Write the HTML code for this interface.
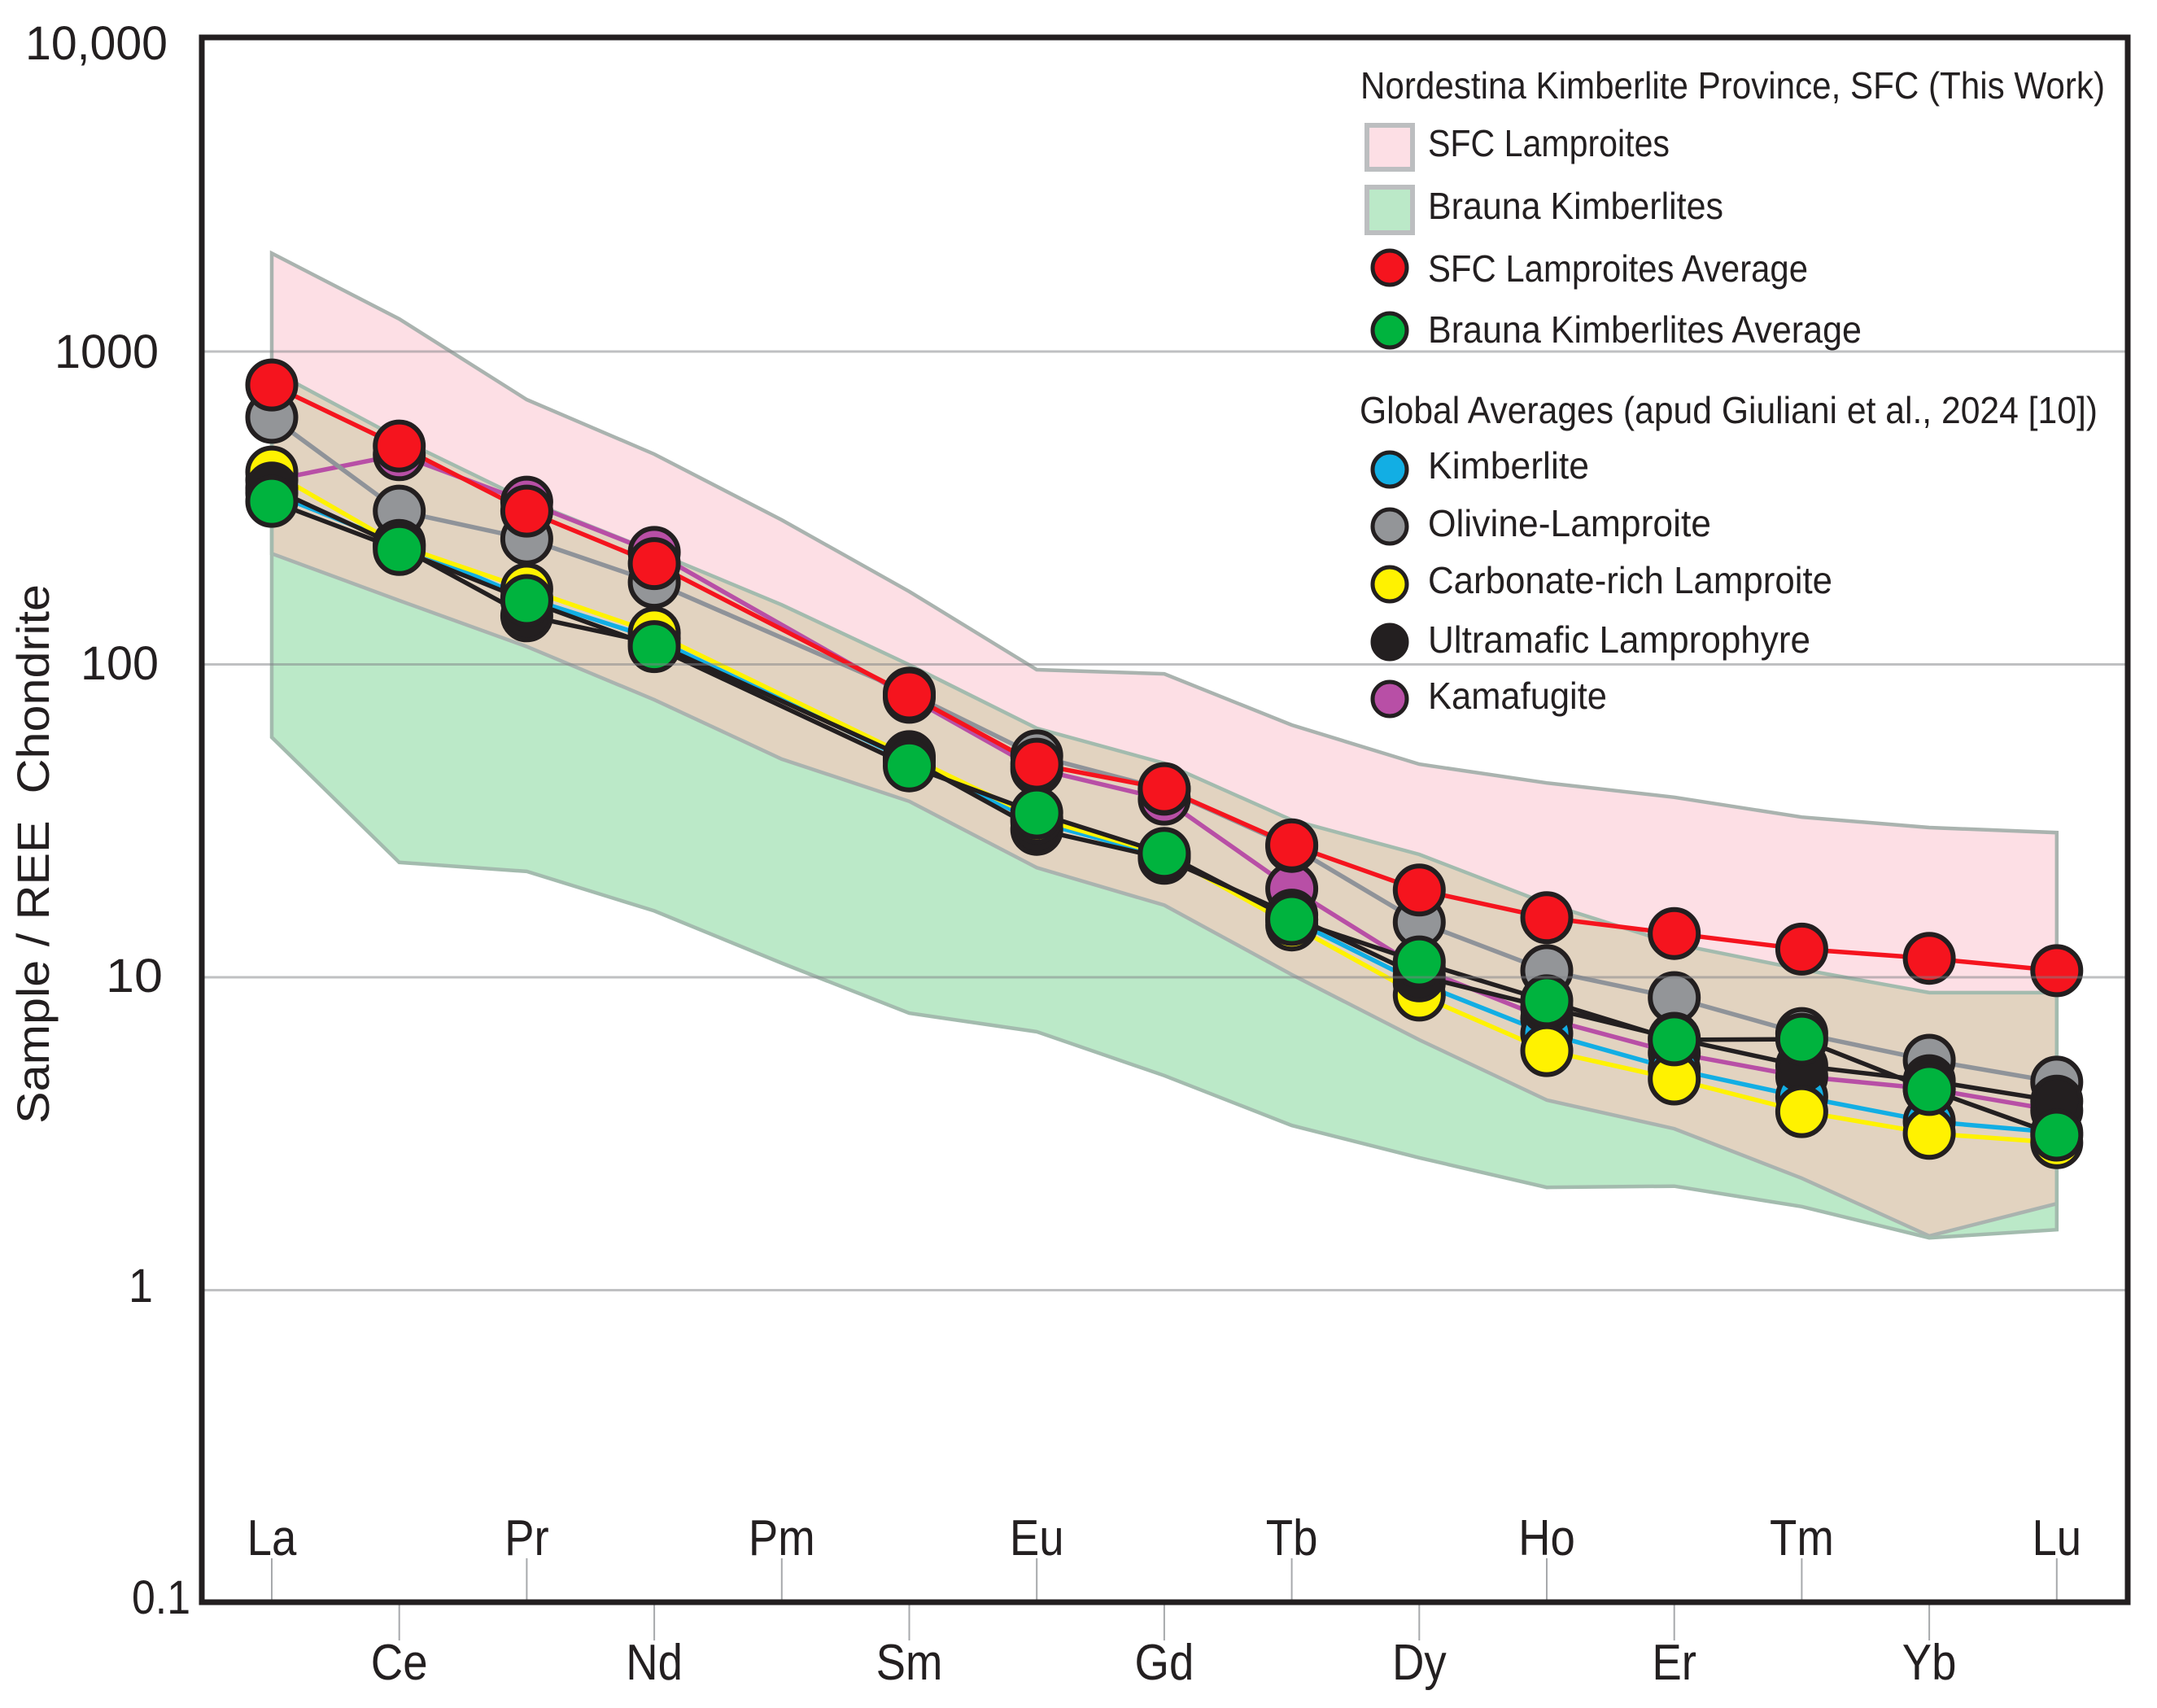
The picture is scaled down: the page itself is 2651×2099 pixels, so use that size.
<!DOCTYPE html>
<html lang="en">
<head>
<meta charset="utf-8">
<title>REE chondrite-normalized diagram</title>
<style>
  html, body { margin: 0; padding: 0; background: #fff; }
  svg { display: block; }
  text { font-family: "Liberation Sans", sans-serif; fill: #231f20; }
</style>
</head>
<body>
<svg id="chart" xmlns="http://www.w3.org/2000/svg" width="2651" height="2099" viewBox="0 0 2651 2099">
  <rect x="0" y="0" width="2651" height="2099" fill="#fff"/>
  <defs><clipPath id="pink-clip"><path id="pink-clip-path" d=""/></clipPath></defs>
  <g id="bands"></g>
  <g id="lines"></g>
  <g id="points"></g>
  <g id="grid"></g>
  <g id="ticks"></g>
  <g id="xlabels"></g>

  <rect x="248" y="46" width="2367" height="1923" fill="none" stroke="#231f20" stroke-width="7"/>

  <g font-size="58">
    <text x="31" y="73" textLength="175" lengthAdjust="spacingAndGlyphs">10,000</text>
    <text x="67" y="452" textLength="128" lengthAdjust="spacingAndGlyphs">1000</text>
    <text x="99" y="835" textLength="96" lengthAdjust="spacingAndGlyphs">100</text>
    <text x="130" y="1219" textLength="70" lengthAdjust="spacingAndGlyphs">10</text>
    <text x="158" y="1600" textLength="30" lengthAdjust="spacingAndGlyphs">1</text>
    <text x="162" y="1983" textLength="72" lengthAdjust="spacingAndGlyphs">0.1</text>
  </g>
  <text transform="translate(60,1381) rotate(-90)" font-size="56" textLength="663" lengthAdjust="spacingAndGlyphs" xml:space="preserve">Sample / REE  Chondrite</text>

  <g font-size="46">
    <text x="1672" y="121" textLength="915" lengthAdjust="spacingAndGlyphs">Nordestina Kimberlite Province, SFC (This Work)</text>
    <rect x="1680" y="154" width="56" height="54" fill="#fddfe5" stroke="#bcbec0" stroke-width="6"/>
    <text x="1755" y="192" textLength="297" lengthAdjust="spacingAndGlyphs">SFC Lamproites</text>
    <rect x="1680" y="230" width="56" height="56" fill="#bbe9c8" stroke="#bcbec0" stroke-width="6"/>
    <text x="1755" y="269" textLength="363" lengthAdjust="spacingAndGlyphs">Brauna Kimberlites</text>
    <circle cx="1708" cy="329" r="21" fill="#f5141e" stroke="#231f20" stroke-width="5"/>
    <text x="1755" y="346" textLength="467" lengthAdjust="spacingAndGlyphs">SFC Lamproites Average</text>
    <circle cx="1708" cy="406" r="21" fill="#00b33e" stroke="#231f20" stroke-width="5"/>
    <text x="1755" y="421" textLength="533" lengthAdjust="spacingAndGlyphs">Brauna Kimberlites Average</text>

    <text x="1671" y="520" textLength="907" lengthAdjust="spacingAndGlyphs">Global Averages (apud Giuliani et al., 2024 [10])</text>
    <circle cx="1708" cy="577" r="21" fill="#12aee4" stroke="#231f20" stroke-width="5"/>
    <text x="1755" y="588" textLength="198" lengthAdjust="spacingAndGlyphs">Kimberlite</text>
    <circle cx="1708" cy="647" r="21" fill="#939598" stroke="#231f20" stroke-width="5"/>
    <text x="1755" y="659" textLength="348" lengthAdjust="spacingAndGlyphs">Olivine-Lamproite</text>
    <circle cx="1708" cy="718" r="21" fill="#fff200" stroke="#231f20" stroke-width="5"/>
    <text x="1755" y="729" textLength="497" lengthAdjust="spacingAndGlyphs">Carbonate-rich Lamproite</text>
    <circle cx="1708" cy="789" r="21" fill="#231f20" stroke="#231f20" stroke-width="5"/>
    <text x="1755" y="802" textLength="470" lengthAdjust="spacingAndGlyphs">Ultramafic Lamprophyre</text>
    <circle cx="1708" cy="859" r="21" fill="#b84fa6" stroke="#231f20" stroke-width="5"/>
    <text x="1755" y="871" textLength="220" lengthAdjust="spacingAndGlyphs">Kamafugite</text>
  </g>
</svg>

<script>
// ---- data ----
const elements = ['La','Ce','Pr','Nd','Pm','Sm','Eu','Gd','Tb','Dy','Ho','Er','Tm','Yb','Lu'];
const gridValues = [1000, 100, 10, 1];

const sfcUpper    = [2060,1271,702,470,289.5,171,96.2,93.3,64.0,48.0,41.8,37.6,32.5,30.1,29.0];
const sfcLower    = [226,160,114,77.1,49.8,36.5,22.4,17.0,10.2,6.31,4.05,3.28,2.28,1.49,1.89];
const braunaUpper = [871,527,334,229,155,99.7,62.5,48.3,31.8,24.7,17.2,12.8,10.6,8.93,8.93];
const braunaLower = [58.5,23.3,21.8,16.3,11.1,7.68,6.70,4.85,3.36,2.65,2.13,2.15,1.85,1.47,1.56];

const sfcAverage      = [782,499,309,210,null,79.9,48.0,40.1,26.5,19.0,15.5,13.8,12.3,11.5,10.5];
const braunaAverage   = [332,233,160,114,null,47.4,33.5,24.9,15.3,11.2,8.41,6.31,6.34,4.38,3.13];
const kimberlite      = [353,243,163,121,null,49.2,31.4,24.4,15.3,9.59,6.61,5.08,4.15,3.46,3.19];
const olivineLamproite= [616,309,252,183,null,80.9,51.0,39.9,26.2,15.0,10.5,8.61,6.61,5.43,4.62];
const carbonateLamproite=[412,240,174,126,null,50.7,32.3,24.7,14.7,8.77,5.83,4.73,3.72,3.17,2.96];
const ultramaficLamprophyre=[366,238,143,117,null,49.8,29.7,24.0,15.8,10.1,8.01,6.38,5.21,4.67,4.02];
const kamafugite      = [388,468,330,228,null,78.5,46.3,37.1,19.2,10.7,7.37,5.73,4.82,4.40,3.75];

// elements where the ultramafic marker sits on top of the carbonate-rich marker
const blackOverYellow = ['La','Ce','Sm','Tb','Dy'];

// ---- axis functions ----
function xAxis(i) { return 334 + 156.7 * i; }
function yAxis(v) { return 1201 - 384.5 * (Math.log10(v) - 1); }

const NS = 'http://www.w3.org/2000/svg';
const bands = document.getElementById('bands');
const linesG = document.getElementById('lines');
const pointsG = document.getElementById('points');
const gridG = document.getElementById('grid');
const ticksG = document.getElementById('ticks');
const xlabelsG = document.getElementById('xlabels');

function bandPath(upper, lower) {
  const top = upper.map(function (v, i) { return xAxis(i).toFixed(1) + ',' + yAxis(v).toFixed(1); });
  const bot = lower.map(function (v, i) { return xAxis(i).toFixed(1) + ',' + yAxis(v).toFixed(1); }).reverse();
  return 'M' + top.concat(bot).join(' L') + ' Z';
}

// ---- bands ----
const pinkD = bandPath(sfcUpper, sfcLower);
const greenD = bandPath(braunaUpper, braunaLower);
document.getElementById('pink-clip-path').setAttribute('d', pinkD);

const pinkFill = document.createElementNS(NS, 'path');


pinkFill.setAttribute('d', pinkD);
pinkFill.setAttribute('fill', '#fddfe5');
bands.appendChild(pinkFill);

const greenFill = document.createElementNS(NS, 'path');


greenFill.setAttribute('d', greenD);
greenFill.setAttribute('fill', '#bbe9c8');
bands.appendChild(greenFill);

const overlapFill = document.createElementNS(NS, 'path');


overlapFill.setAttribute('d', greenD);
overlapFill.setAttribute('fill', '#e2d3c0');
overlapFill.setAttribute('clip-path', 'url(#pink-clip)');
bands.appendChild(overlapFill);

const pinkEdge = document.createElementNS(NS, 'path');


pinkEdge.setAttribute('d', pinkD);
pinkEdge.setAttribute('fill', 'none');
pinkEdge.setAttribute('stroke', '#aab3af');
pinkEdge.setAttribute('stroke-width', '4.5');
bands.appendChild(pinkEdge);

const greenEdge = document.createElementNS(NS, 'path');


greenEdge.setAttribute('d', greenD);
greenEdge.setAttribute('fill', 'none');
greenEdge.setAttribute('stroke', '#a3bbae');
greenEdge.setAttribute('stroke-width', '4.5');
bands.appendChild(greenEdge);

// ---- series ----
const lineSeries = [
  { key: 'kamafugite', values: kamafugite, line: '#b84fa6', fill: '#b84fa6' },
  { key: 'olivine-lamproite', values: olivineLamproite, line: '#8f9399', fill: '#939598' },
  { key: 'kimberlite', values: kimberlite, line: '#12aee4', fill: '#12aee4' },
  { key: 'carbonate-lamproite', values: carbonateLamproite, line: '#fff200', fill: '#fff200' },
  { key: 'ultramafic-lamprophyre', values: ultramaficLamprophyre, line: '#231f20', fill: '#231f20' },
  { key: 'brauna-average', values: braunaAverage, line: '#231f20', fill: '#00b33e' },
  { key: 'sfc-average', values: sfcAverage, line: '#f5141e', fill: '#f5141e' }
];

lineSeries.forEach(function (s) {
  const pts = [];
  s.values.forEach(function (v, i) {
    if (v !== null) { pts.push(xAxis(i).toFixed(1) + ',' + yAxis(v).toFixed(1)); }
  });
  const line = document.createElementNS(NS, 'polyline');
  
  
  line.setAttribute('points', pts.join(' '));
  line.setAttribute('fill', 'none');
  line.setAttribute('stroke', s.line);
  line.setAttribute('stroke-width', '5.5');
  linesG.appendChild(line);
});

const markerOrder = ['kamafugite', 'kimberlite', 'olivine-lamproite', 'ultramafic-lamprophyre', 'carbonate-lamproite', 'brauna-average', 'sfc-average'];
elements.forEach(function (el, i) {
  let order = markerOrder.slice();
  if (blackOverYellow.indexOf(el) >= 0) {
    order = ['kamafugite', 'kimberlite', 'olivine-lamproite', 'carbonate-lamproite', 'ultramafic-lamprophyre', 'brauna-average', 'sfc-average'];
  }
  order.forEach(function (key) {
    const s = lineSeries.filter(function (d) { return d.key === key; })[0];
    const v = s.values[i];
    if (v === null) { return; }
    const c = document.createElementNS(NS, 'circle');
    
    
    c.setAttribute('cx', xAxis(i).toFixed(1));
    c.setAttribute('cy', yAxis(v).toFixed(1));
    c.setAttribute('r', '29.5');
    c.setAttribute('fill', s.fill);
    c.setAttribute('stroke', '#231f20');
    c.setAttribute('stroke-width', '6');
    pointsG.appendChild(c);
  });
});

// ---- gridlines ----
gridValues.forEach(function (v) {
  const g = document.createElementNS(NS, 'line');
  
  
  g.setAttribute('x1', '250');
  g.setAttribute('x2', '2613');
  g.setAttribute('y1', yAxis(v).toFixed(1));
  g.setAttribute('y2', yAxis(v).toFixed(1));
  g.setAttribute('stroke', '#808285');
  g.setAttribute('stroke-opacity', '0.5');
  g.setAttribute('stroke-width', '3');
  gridG.appendChild(g);
});

// ---- x ticks and labels ----
elements.forEach(function (el, i) {
  const upper = i % 2 === 0;
  const t = document.createElementNS(NS, 'line');
  
  
  t.setAttribute('x1', xAxis(i).toFixed(1));
  t.setAttribute('x2', xAxis(i).toFixed(1));
  t.setAttribute('y1', upper ? '1915' : '1969');
  t.setAttribute('y2', upper ? '1969' : '2016');
  t.setAttribute('stroke', '#a7a9ac');
  t.setAttribute('stroke-width', '2');
  ticksG.appendChild(t);

  const lab = document.createElementNS(NS, 'text');
  
  
  lab.setAttribute('x', xAxis(i).toFixed(1));
  lab.setAttribute('y', upper ? '1911' : '2064');
  lab.setAttribute('text-anchor', 'middle');
  lab.setAttribute('font-size', '62');
  lab.textContent = el;
  xlabelsG.appendChild(lab);
  const w = lab.getComputedTextLength();
  lab.setAttribute('textLength', (w * 0.88).toFixed(1));
  lab.setAttribute('lengthAdjust', 'spacingAndGlyphs');
});
</script>
</body>
</html>
